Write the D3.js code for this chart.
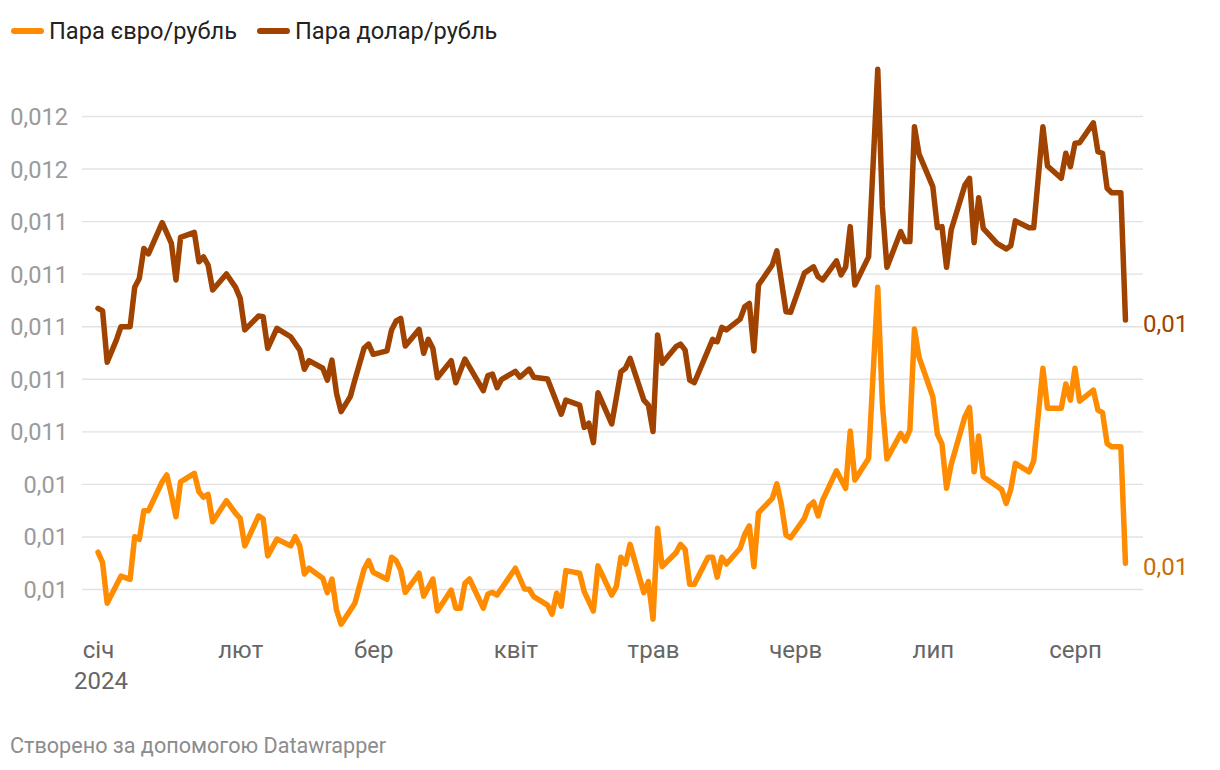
<!DOCTYPE html>
<html><head><meta charset="utf-8">
<script src="https://cdn.jsdelivr.net/npm/d3@7"></script>
<style>body{margin:0;background:#fff}svg{display:block;font-family:Roboto,"Noto Sans",sans-serif}</style>
</head><body><svg id="c" width="1220" height="770"></svg>
<script>
const seriesNames = ["Пара євро/рубль", "Пара долар/рубль"];
const monthLabels = ["січ","лют","бер","квіт","трав","черв","лип","серп"];
const monthTicks = ["2024-01-01","2024-02-01","2024-03-01","2024-04-01","2024-05-01","2024-06-01","2024-07-01","2024-08-01"];
const yearLabel = "2024";
const yTicks = [0.0100,0.0102,0.0104,0.0106,0.0108,0.0110,0.0112,0.0114,0.0116,0.0118];
const footerText = "Створено за допомогою Datawrapper";

const usdDates = ["01-01","01-02","01-03","01-05","01-06","01-08","01-09","01-10","01-11","01-12","01-15","01-17","01-18","01-19","01-22","01-23","01-24","01-25","01-26","01-29","01-31","02-01","02-02","02-05","02-06","02-07","02-09","02-12","02-14","02-15","02-16","02-19","02-20","02-21","02-22","02-23","02-25","02-26","02-28","02-29","03-01","03-04","03-05","03-06","03-07","03-08","03-11","03-12","03-13","03-14","03-15","03-18","03-19","03-21","03-25","03-26","03-27","03-28","03-29","04-01","04-02","04-04","04-05","04-08","04-11","04-12","04-15","04-16","04-17","04-18","04-19","04-22","04-24","04-25","04-26","04-29","04-30","05-01","05-02","05-03","05-06","05-07","05-08","05-09","05-10","05-14","05-15","05-16","05-17","05-20","05-21","05-22","05-23","05-24","05-27","05-28","05-30","05-31","06-03","06-05","06-06","06-07","06-10","06-11","06-12","06-13","06-14","06-17","06-19","06-20","06-21","06-24","06-25","06-26","06-27","06-28","07-01","07-02","07-03","07-04","07-05","07-08","07-09","07-10","07-11","07-12","07-15","07-17","07-18","07-19","07-22","07-23","07-25","07-26","07-29","07-30","07-31","08-01","08-02","08-05","08-06","08-07","08-08","08-09","08-11","08-12"];
const usdValues = [0.011068,0.011058,0.010863,0.010947,0.010998,0.010998,0.011148,0.011182,0.011296,0.011275,0.011394,0.011315,0.011176,0.011338,0.011357,0.011245,0.011264,0.011233,0.011138,0.011199,0.011148,0.011106,0.010986,0.011039,0.011036,0.010916,0.010992,0.010960,0.010909,0.010836,0.010869,0.010840,0.010795,0.010871,0.010745,0.010675,0.010732,0.010795,0.010916,0.010932,0.010893,0.010906,0.010986,0.011020,0.011030,0.010925,0.010988,0.010897,0.010950,0.010916,0.010804,0.010869,0.010785,0.010875,0.010755,0.010812,0.010818,0.010766,0.010798,0.010828,0.010806,0.010837,0.010806,0.010799,0.010665,0.010719,0.010700,0.010615,0.010631,0.010557,0.010747,0.010628,0.010827,0.010840,0.010878,0.010719,0.010700,0.010599,0.010967,0.010859,0.010922,0.010932,0.010909,0.010795,0.010785,0.010950,0.010941,0.010996,0.010986,0.011027,0.011074,0.011087,0.010906,0.011157,0.011233,0.011287,0.011055,0.011053,0.011202,0.011226,0.011188,0.011176,0.011249,0.011195,0.011226,0.011379,0.011157,0.011264,0.011978,0.011455,0.011224,0.011360,0.011322,0.011322,0.011759,0.011655,0.011531,0.011375,0.011379,0.011224,0.011366,0.011537,0.011563,0.011318,0.011489,0.011372,0.011315,0.011294,0.011306,0.011401,0.011375,0.011375,0.011759,0.011610,0.011563,0.011658,0.011607,0.011696,0.011698,0.011774,0.011664,0.011658,0.011525,0.011508,0.011508,0.011024];

const eurDates = ["01-01","01-02","01-03","01-06","01-08","01-09","01-10","01-11","01-12","01-15","01-16","01-17","01-18","01-19","01-22","01-23","01-24","01-25","01-26","01-29","01-31","02-01","02-02","02-05","02-06","02-07","02-09","02-12","02-13","02-14","02-15","02-16","02-19","02-20","02-21","02-22","02-23","02-26","02-28","02-29","03-01","03-04","03-05","03-06","03-07","03-08","03-11","03-12","03-14","03-15","03-18","03-19","03-20","03-21","03-22","03-25","03-26","03-27","03-28","04-01","04-03","04-04","04-05","04-08","04-09","04-10","04-11","04-12","04-15","04-16","04-18","04-19","04-22","04-23","04-24","04-25","04-26","04-29","04-30","05-01","05-02","05-03","05-06","05-07","05-08","05-09","05-10","05-13","05-14","05-15","05-16","05-17","05-20","05-21","05-22","05-23","05-24","05-27","05-28","05-29","05-30","05-31","06-03","06-04","06-05","06-06","06-07","06-10","06-12","06-13","06-14","06-17","06-19","06-20","06-21","06-24","06-25","06-26","06-27","06-28","07-01","07-02","07-03","07-04","07-05","07-08","07-09","07-10","07-11","07-12","07-16","07-17","07-18","07-19","07-22","07-23","07-25","07-26","07-29","07-30","07-31","08-01","08-02","08-05","08-06","08-07","08-08","08-09","08-11","08-12"];
const eurValues = [0.010140,0.010100,0.009946,0.010049,0.010037,0.010199,0.010189,0.010298,0.010298,0.010408,0.010434,0.010358,0.010275,0.010408,0.010440,0.010370,0.010349,0.010360,0.010256,0.010336,0.010288,0.010269,0.010164,0.010278,0.010267,0.010126,0.010190,0.010164,0.010199,0.010164,0.010057,0.010079,0.010041,0.009986,0.010038,0.009920,0.009866,0.009946,0.010075,0.010108,0.010064,0.010037,0.010121,0.010108,0.010072,0.009987,0.010060,0.009973,0.010038,0.009916,0.009996,0.009927,0.009927,0.010022,0.010038,0.009927,0.009981,0.009987,0.009977,0.010079,0.010000,0.009999,0.009971,0.009939,0.009904,0.009984,0.009935,0.010070,0.010060,0.009990,0.009916,0.010088,0.009977,0.010009,0.010121,0.010095,0.010170,0.009986,0.010028,0.009885,0.010231,0.010085,0.010138,0.010170,0.010151,0.010018,0.010018,0.010121,0.010121,0.010045,0.010121,0.010095,0.010155,0.010208,0.010240,0.010085,0.010290,0.010345,0.010400,0.010320,0.010205,0.010195,0.010269,0.010316,0.010331,0.010278,0.010339,0.010450,0.010383,0.010601,0.010415,0.010497,0.011148,0.010707,0.010495,0.010592,0.010564,0.010605,0.010989,0.010882,0.010732,0.010589,0.010552,0.010383,0.010474,0.010656,0.010691,0.010446,0.010582,0.010427,0.010379,0.010326,0.010379,0.010478,0.010446,0.010488,0.010840,0.010688,0.010688,0.010780,0.010719,0.010840,0.010715,0.010757,0.010681,0.010671,0.010554,0.010541,0.010541,0.010098];

const colors = ["#ff8c00", "#a04300"];
const labelColors = ["#c96d00", "#a04300"];

const parse = d3.timeParse("%Y-%m-%d");
const svg = d3.select("#c");
const gridLeft = 82, gridRight = 1143;

const x = d3.scaleTime().domain([parse(monthTicks[0]), parse(monthTicks[7])]).range([98, 1075]);
const y = d3.scaleLinear().domain([0.0100, 0.0118]).range([589, 116]);

const fmtTick = v => d3.format(".3~f")(v).replace(".", ",");
const fmtEnd = v => d3.format(".2~f")(v).replace(".", ",");

// grid + y labels
const yAxis = d3.axisLeft(y).tickValues(yTicks).tickSize(gridRight - gridLeft).tickPadding(14).tickFormat(fmtTick);
const gy = svg.append("g").attr("transform", `translate(${gridRight},0)`).call(yAxis);
gy.select(".domain").remove();
gy.selectAll(".tick line").attr("stroke", "#e2e2e2").attr("stroke-width", 1.4);
gy.selectAll(".tick text").attr("fill", "#9a9a9a").style("font-size", "23.6px").style("font-family", "Roboto").attr("dy", "0.36em");

// x axis
const xAxis = d3.axisBottom(x).tickValues(monthTicks.map(parse)).tickSize(0).tickPadding(0).tickFormat((d, i) => monthLabels[i]);
const gx = svg.append("g").attr("transform", "translate(0,658)").call(xAxis);
gx.select(".domain").remove();
gx.selectAll(".tick text").attr("fill", "#666").style("font-size", "24px").style("font-family", "Roboto").attr("dy", 0).attr("y", 0);
svg.append("text").attr("x", x(parse(monthTicks[0])) + 3).attr("y", 689).attr("text-anchor", "middle")
  .attr("fill", "#666").style("font-size", "24px").text(yearLabel);

// lines
const series = [
  {name: seriesNames[0], data: eurDates.map((d, i) => ({date: parse("2024-" + d), v: eurValues[i]}))},
  {name: seriesNames[1], data: usdDates.map((d, i) => ({date: parse("2024-" + d), v: usdValues[i]}))}
];
const line = d3.line().x(d => x(d.date)).y(d => y(d.v));
series.forEach((s, i) => {
  svg.append("path").datum(s.data).attr("d", line).attr("fill", "none")
    .attr("stroke", colors[i]).attr("stroke-width", 5.5).attr("stroke-linejoin", "round").attr("stroke-linecap", "round");
  const last = s.data[s.data.length - 1];
  svg.append("text").attr("x", gridRight).attr("y", y(last.v) + 3).attr("dy", "0.36em")
    .attr("fill", labelColors[i]).style("font-size", "24px").text(fmtEnd(last.v));
});

// legend
const legendX = [12, 258];
seriesNames.forEach((n, i) => {
  svg.append("line").attr("x1", legendX[i] + 2).attr("x2", legendX[i] + 29).attr("y1", 31).attr("y2", 31)
    .attr("stroke", colors[i]).attr("stroke-width", 6).attr("stroke-linecap", "round");
  svg.append("text").attr("x", legendX[i] + 37).attr("y", 39).attr("fill", "#222").style("font-size", "23.6px").text(n);
});

// footer
svg.append("text").attr("x", 10).attr("y", 753).attr("fill", "#8c8c8c").style("font-size", "21.6px").text(footerText);
</script></body></html>
